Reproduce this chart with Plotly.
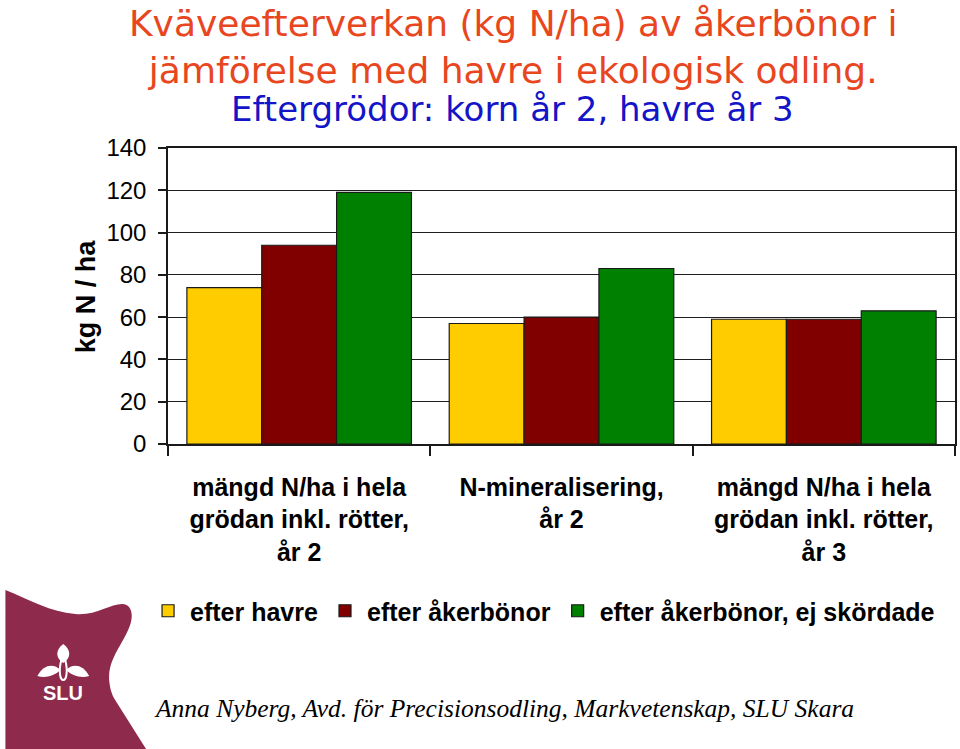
import plotly.graph_objects as go

# ---- data ----
categories = [
    "mängd N/ha i hela<br>grödan inkl. rötter,<br>år 2",
    "N-mineralisering,<br>år 2",
    "mängd N/ha i hela<br>grödan inkl. rötter,<br>år 3",
]
series_names = ["efter havre", "efter åkerbönor", "efter åkerbönor, ej skördade"]
efter_havre = [74, 57, 59]
efter_akerbonor = [94, 60, 59]
efter_akerbonor_ej_skordade = [119, 83, 63]
series_colors = ["#FFCC00", "#800000", "#008000"]
y_ticks = [0, 20, 40, 60, 80, 100, 120, 140]

title_text = "Kväveefterverkan (kg N/ha) av åkerbönor i<br>jämförelse med havre i ekologisk odling."
subtitle_text = "Eftergrödor: korn år 2, havre år 3"
y_title = "kg N / ha"
footer_text = "Anna Nyberg, Avd. för Precisionsodling, Markvetenskap, SLU Skara"

# ---- layout geometry (pixels) ----
W, H = 960, 749
L, R, T, B = 168, 3, 148, 305
PW, PH = W - L - R, H - T - B


def px(x):
    return (x - L) / PW


def py(y):
    return (H - B - y) / PH


def path(cmds):
    out = []
    for c in cmds:
        if isinstance(c, str):
            out.append(c)
        else:
            out.append(f"{px(c[0]):.5f},{py(c[1]):.5f}")
    return " ".join(out)


fig = go.Figure()
for name, vals, col in zip(series_names,
                           [efter_havre, efter_akerbonor, efter_akerbonor_ej_skordade],
                           series_colors):
    fig.add_trace(go.Bar(
        x=categories, y=vals, name=name,
        marker=dict(color=col, line=dict(color="#1a1a1a", width=1.2)),
    ))

fig.update_layout(
    width=W, height=H,
    margin=dict(l=L, r=R, t=T, b=B),
    paper_bgcolor="white", plot_bgcolor="white",
    barmode="group", bargap=0.144, bargroupgap=0,
    showlegend=True,
    legend=dict(
        orientation="h", x=px(146), xanchor="left", y=py(611), yanchor="middle",
        font=dict(family="Liberation Sans, Arial", size=25, color="black", weight="bold"),
        bgcolor="rgba(0,0,0,0)", itemwidth=34, tracegroupgap=0,
    ),
    font=dict(family="Liberation Sans, Arial", color="black"),
)

fig.update_xaxes(
    showline=True, linecolor="#1a1a1a", linewidth=1.5, mirror=True,
    ticks="outside", tickson="boundaries", ticklen=10, tickcolor="#1a1a1a", tickwidth=1.5,
    tickfont=dict(family="Liberation Sans, Arial", size=25, color="black", weight="bold"),
    ticklabelstandoff=20,
    showgrid=False,
)
fig.update_yaxes(
    range=[0, 140], tickvals=y_ticks,
    showline=True, linecolor="#1a1a1a", linewidth=1.5, mirror=True,
    ticks="outside", ticklen=8, tickcolor="#1a1a1a", tickwidth=1.5,
    tickfont=dict(family="Liberation Sans Narrow, Arial Narrow, Liberation Sans, Arial", size=24, color="black"),
    ticklabelstandoff=7,
    showgrid=True, gridcolor="#1f1f1f", gridwidth=1.4,
    zeroline=False,
)

annotations = [
    dict(text=title_text, x=px(514), y=py(47), xref="paper", yref="paper",
         xanchor="center", yanchor="middle", showarrow=False,
         font=dict(family="DejaVu Sans", size=36, color="#E8461E")),
    dict(text=subtitle_text, x=px(513), y=py(109), xref="paper", yref="paper",
         xanchor="center", yanchor="middle", showarrow=False,
         font=dict(family="DejaVu Sans", size=34, color="#1414C8")),
    dict(text=y_title, x=px(86), y=py(296), xref="paper", yref="paper",
         xanchor="center", yanchor="middle", showarrow=False, textangle=-90,
         font=dict(family="Liberation Sans, Arial", size=27, color="black", weight="bold")),
    dict(text=footer_text, x=px(505), y=py(708), xref="paper", yref="paper",
         xanchor="center", yanchor="middle", showarrow=False,
         font=dict(family="Liberation Serif, Times New Roman", size=25.5, color="black", style="italic")),
    dict(text="SLU", x=px(63), y=py(693), xref="paper", yref="paper",
         xanchor="center", yanchor="middle", showarrow=False,
         font=dict(family="Liberation Sans, Arial", size=20, color="white", weight="bold")),
]
fig.update_layout(annotations=annotations)

# ---- SLU logo (decoration) ----
logo = path(["M", (5, 590), "C", (30, 600), (50, 612), (75, 614),
             "C", (95, 616), (110, 604), (122, 604),
             "C", (133, 604), (134, 618), (128, 630),
             "C", (120, 648), (108, 660), (109, 680),
             "C", (110, 690), (112, 695), (115, 700),
             "L", (146, 749), "L", (5, 749), "Z"])
top_leaf = path(["M", (63, 644), "C", (71, 650), (71, 658), (63, 663),
                 "C", (55, 658), (55, 650), (63, 644), "Z"])
left_leaf = path(["M", (37, 676), "C", (43, 664), (54, 663), (60, 670),
                  "C", (53, 677), (44, 678), (37, 676), "Z"])
right_leaf = path(["M", (89, 676), "C", (83, 664), (72, 663), (66, 670),
                   "C", (73, 677), (82, 678), (89, 676), "Z"])
stems = path(["M", (61, 660), "C", (58, 672), (60, 680), (63, 680),
              "C", (66, 680), (68, 672), (65, 660)])
shapes = [
    dict(type="path", path=logo, xref="paper", yref="paper",
         fillcolor="#8E2A4C", line=dict(width=0), layer="above"),
    dict(type="path", path=top_leaf, xref="paper", yref="paper",
         fillcolor="white", line=dict(width=0), layer="above"),
    dict(type="path", path=left_leaf, xref="paper", yref="paper",
         fillcolor="white", line=dict(width=0), layer="above"),
    dict(type="path", path=right_leaf, xref="paper", yref="paper",
         fillcolor="white", line=dict(width=0), layer="above"),
    dict(type="path", path=stems, xref="paper", yref="paper",
         line=dict(color="white", width=2), layer="above"),
]
fig.update_layout(shapes=shapes)

fig.write_html("out.html")
